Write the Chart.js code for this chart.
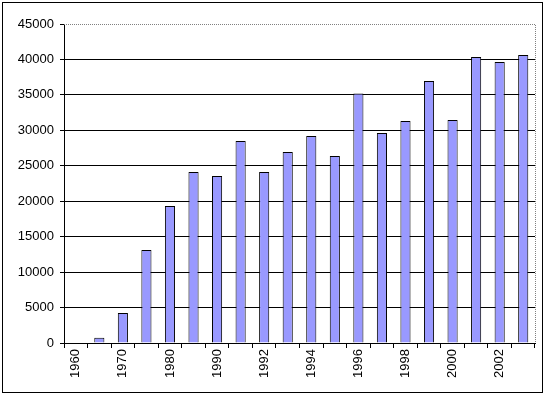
<!DOCTYPE html>
<html>
<head>
<meta charset="utf-8">
<script src="https://cdn.jsdelivr.net/npm/chart.js@4"></script>
<style>
  html, body { margin: 0; padding: 0; background: #fff; }
  #wrap { width: 546px; height: 396px; position: relative; }
</style>
</head>
<body>
<div id="wrap"><canvas id="grafico" width="546" height="396"></canvas></div>
<script>
const anios = ['1960', '1965', '1970', '1975', '1980', '1985', '1990', '1991', '1992', '1993',
  '1994', '1995', '1996', '1997', '1998', '1999', '2000', '2001', '2002', '2003'];
const valores = [0, 750, 4230, 13120, 19320, 24120, 23550, 28490, 24120, 26940,
  29200, 26380, 35210, 29620, 31310, 36950, 31450, 40340, 39630, 40620];
const yMax = 45000;
const yPaso = 5000;

const fuente = { family: 'Liberation Sans, Arial, sans-serif', size: 13 };

// marco exterior y borde punteado del area del grafico
const marcos = {
  id: 'marcos',
  afterDraw(chart) {
    const ctx = chart.ctx;
    const a = chart.chartArea;
    ctx.save();
    ctx.strokeStyle = '#000';
    ctx.lineWidth = 1;
    ctx.strokeRect(2.5, 2.5, 540, 390);
    ctx.strokeStyle = '#808080';
    ctx.setLineDash([1, 1]);
    ctx.beginPath();
    ctx.moveTo(a.left, Math.round(a.top) + 0.5);
    ctx.lineTo(Math.round(a.right) + 0.5, Math.round(a.top) + 0.5);
    ctx.lineTo(Math.round(a.right) + 0.5, a.bottom);
    ctx.stroke();
    ctx.restore();
  }
};

new Chart(document.getElementById('grafico'), {
  type: 'bar',
  data: {
    labels: anios,
    datasets: [{
      data: valores,
      backgroundColor: '#9999FF',
      borderColor: '#000',
      borderWidth: 1,
      barPercentage: 0.43,
      categoryPercentage: 1
    }]
  },
  options: {
    responsive: false,
    animation: false,
    layout: { padding: { left: 0, top: 24, right: 11, bottom: 3 } },
    plugins: { legend: { display: false }, tooltip: { enabled: false } },
    scales: {
      x: {
        grid: { drawOnChartArea: false, drawTicks: true, tickLength: 5, color: '#000', offset: true },
        border: { display: true, color: '#000', width: 1 },
        ticks: {
          color: '#000', font: fuente, minRotation: 90, maxRotation: 90, autoSkip: false, padding: 1,
          callback: (v, i) => (i % 2 === 0 ? anios[i] : '')
        },
        afterFit: s => { s.height = 50; }
      },
      y: {
        min: 0, max: yMax,
        grid: {
          color: c => (c.tick.value === yMax ? 'rgba(0,0,0,0)' : '#000'),
          tickColor: '#000', tickLength: 4, drawTicks: true
        },
        border: { display: true, color: '#000', width: 1 },
        ticks: { stepSize: yPaso, color: '#000', font: fuente, padding: 6, callback: v => String(v) },
        afterFit: s => { s.width = 64; }
      }
    }
  },
  plugins: [marcos]
});
</script>
</body>
</html>
